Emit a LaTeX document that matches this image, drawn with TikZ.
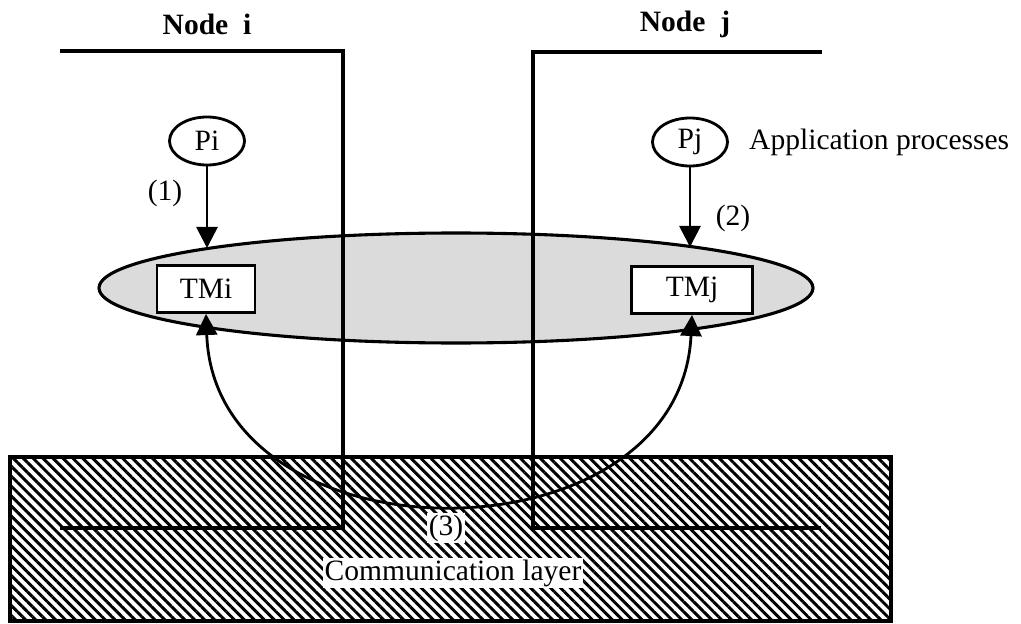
\documentclass[tikz,border=0pt]{standalone}
\usepackage{fontspec}
\setmainfont{Liberation Serif}
\usetikzlibrary{shapes.geometric,arrows.meta,patterns.meta}

\tikzset{
  proc/.style={ellipse, draw, line width=2pt, minimum width=1.875cm, minimum height=1.2cm, inner sep=0pt},
  tmbox/.style={rectangle, draw, fill=white, line width=1.9pt, minimum height=1.18cm, inner sep=0pt},
  tag/.style={fill=white, inner sep=1pt},
  post/.style={-{Triangle[length=15pt,width=15pt]}, line width=2pt},
}

\begin{document}
\begin{tikzpicture}[x=0.025cm, y=-0.025cm, font=\fontsize{21}{25}\selectfont, line width=2.2pt]
\useasboundingbox (0,0) rectangle (1021,624);

% communication layer
\draw[pattern={Lines[angle=-45,distance=5pt,line width=2.1pt]}] (10,457) rectangle (891,621);

% shared region of the two nodes
\draw[fill=gray!28] (456,288) ellipse [x radius=357, y radius=55];

% node borders
\draw (60,51) -- (343,51) -- (343,528) -- (60,528);
\draw (822,52) -- (533,52) -- (533,528) -- (821,528);
\node[font=\fontsize{21}{25}\selectfont\bfseries] (ni) at (207,24) {Node\ \ i};
\node[font=\fontsize{21}{25}\selectfont\bfseries] (nj) at (685,24) {Node\ \ j};

   \foreach \n/\x/\y in {i/207/141, j/690/142}
     \node [proc] (P\n) at (\x,\y) {P\n};
   \node [tmbox, minimum width=2.45cm] (TMi) at (206,289) {TMi};
   \node [tmbox, minimum width=3.02cm] (TMj) at (692,290) {TMj};

   \coordinate (ei) at (207,248);
   \coordinate (ej) at (690,247);
   \draw[post] (Pi) -- (ei);
   \draw[post] (Pj) -- (ej);

   \node (n1) at (165,193) {(1)};
   \node (n2) at (733,218) {(2)};
   \node[anchor=west] (app) at (743,142) {Application processes};

   \draw[{Triangle[length=15pt,width=15pt]}-{Triangle[length=15pt,width=15pt]}, line width=2pt]
     (TMi.south) .. controls (215,566) and (680,566) .. (TMj.south);

   \node[tag] (n3) at (446,528) {(3)};
   \node[tag] (layer) at (453,573) {Communication layer};

\end{tikzpicture}
\end{document}
